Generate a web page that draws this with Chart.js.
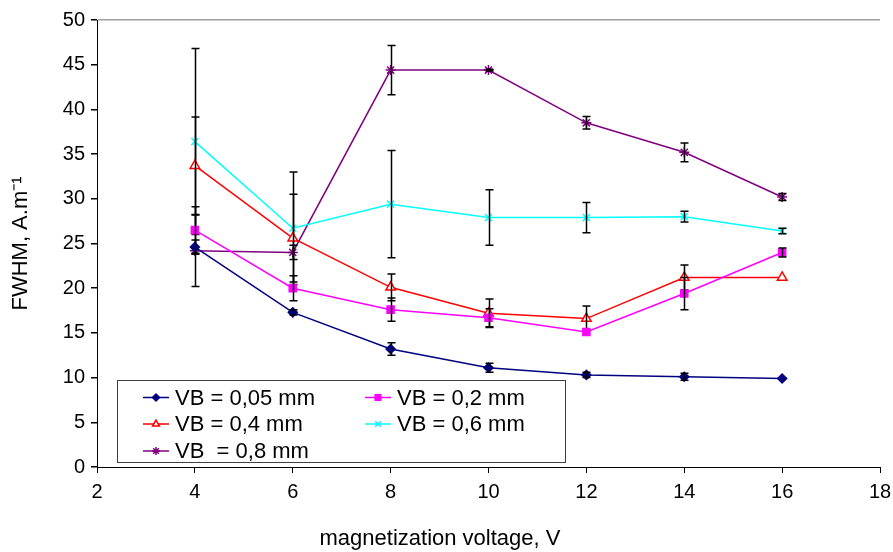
<!DOCTYPE html>
<html><head><meta charset="utf-8">
<script src="https://cdn.jsdelivr.net/npm/chart.js@4/dist/chart.umd.min.js"></script>
<style>html,body{margin:0;padding:0;background:#fff}#wrap{width:893px;height:552px}</style>
</head><body><div id="wrap"><canvas id="c" width="893" height="552"></canvas></div>
<script>
const voltages = [4, 6, 8, 10, 12, 14, 16];
const seriesNames = ['VB = 0,05 mm', 'VB = 0,2 mm', 'VB = 0,4 mm', 'VB = 0,6 mm', 'VB  = 0,8 mm'];
const vb005 = [24.6, 17.3, 13.2, 11.1, 10.3, 10.1, 9.9];
const vb02  = [26.5, 20.0, 17.6, 16.7, 15.1, 19.4, 24.0];
const vb04  = [33.7, 25.6, 20.1, 17.2, 16.6, 21.2, 21.2];
const vb06  = [36.4, 26.7, 29.4, 27.9, 27.9, 28.0, 26.4];
const vb08  = [24.2, 24.0, 44.4, 44.4, 38.5, 35.2, 30.2];
const err005 = [0.8, 0.3, 0.7, 0.5, 0.3, 0.4, 0];
const err02  = [2.6, 1.4, 1.3, 1.0, 0, 1.8, 0.5];
const err04  = [5.45, 4.9, 1.5, 1.6, 1.4, 1.4, 0];
const err06  = [10.4, 6.3, 6.0, 3.1, 1.7, 0.6, 0.3];
const err08  = [4.0, 0.8, 2.75, 0.1, 0.7, 1.05, 0.4];
const xTicks = [2, 4, 6, 8, 10, 12, 14, 16, 18];
const yTicks = [0, 5, 10, 15, 20, 25, 30, 35, 40, 45, 50];

const values = [vb005, vb02, vb04, vb06, vb08];
const errors = [err005, err02, err04, err06, err08];
const styles = [
  {color:'#000080', fill:'#000080', point:'rectRot', r:4.5, lr:3.5},
  {color:'#FF00FF', fill:'#FF00FF', point:'rect', r:5, lr:4},
  {color:'#FF0000', fill:'#FFFFFF', point:'triangle', r:5.5, lr:4},
  {color:'#00FFFF', fill:'#00FFFF', point:'crossRot', r:5, lr:4},
  {color:'#800080', fill:'#800080', point:'star', r:5, lr:4}
];

const datasets = values.map((vals, i) => ({
  label: seriesNames[i],
  data: vals.map((v, j) => ({x: voltages[j], y: v})),
  errs: errors[i],
  legendRadius: styles[i].lr,
  borderColor: styles[i].color,
  backgroundColor: styles[i].fill,
  pointBackgroundColor: styles[i].fill,
  pointBorderColor: styles[i].color,
  pointStyle: styles[i].point,
  pointRadius: styles[i].r,
  pointBorderWidth: 1.5,
  borderWidth: 1.5,
  tension: 0,
  fill: false
}));

const errorBars = {
  id: 'errorBars',
  afterDatasetDraw(chart, args) {
    const ds = chart.data.datasets[args.index];
    const xs = chart.scales.x, ys = chart.scales.y;
    const ctx = chart.ctx;
    ctx.save();
    ctx.strokeStyle = '#000';
    ctx.lineWidth = 1.5;
    ds.data.forEach((p, j) => {
      const e = ds.errs[j];
      if (!e) return;
      const px = Math.round(xs.getPixelForValue(p.x)) + 0.5;
      const yt = ys.getPixelForValue(p.y + e);
      const yb = ys.getPixelForValue(p.y - e);
      ctx.beginPath();
      ctx.moveTo(px, yt); ctx.lineTo(px, yb);
      ctx.moveTo(px - 4, yt); ctx.lineTo(px + 4, yt);
      ctx.moveTo(px - 4, yb); ctx.lineTo(px + 4, yb);
      ctx.stroke();
    });
    ctx.restore();
  }
};

const boxLegend = {
  id: 'boxLegend',
  afterDraw(chart) {
    const ctx = chart.ctx;
    const bx = 117.5, by = 380.5, bw = 448, bh = 82;
    ctx.save();
    ctx.fillStyle = '#fff';
    ctx.fillRect(bx, by, bw, bh);
    ctx.strokeStyle = '#404040';
    ctx.lineWidth = 1;
    ctx.strokeRect(bx, by, bw, bh);
    const cols = [143, 365];
    const rows = [397.5, 424, 451];
    ctx.font = '22px "Liberation Sans", Arial, sans-serif';
    ctx.textBaseline = 'middle';
    ctx.textAlign = 'left';
    chart.data.datasets.forEach((ds, i) => {
      const cx = cols[i % 2], cy = rows[Math.floor(i / 2)];
      ctx.strokeStyle = ds.borderColor;
      ctx.lineWidth = 1.5;
      ctx.beginPath(); ctx.moveTo(cx, cy); ctx.lineTo(cx + 26, cy); ctx.stroke();
      ctx.fillStyle = ds.pointBackgroundColor;
      ctx.strokeStyle = ds.pointBorderColor;
      Chart.helpers.drawPoint(ctx, {pointStyle: ds.pointStyle, radius: ds.legendRadius, borderWidth: 1.5, rotation: 0}, cx + 13, cy);
      ctx.fillStyle = '#000';
      ctx.fillText(ds.label, cx + 32, cy + 1);
    });
    ctx.restore();
  }
};

const tickFont = {family: '"Liberation Sans", Arial, sans-serif', size: 20};
const titleFont = {family: '"Liberation Sans", Arial, sans-serif', size: 22, weight: 'normal'};

new Chart(document.getElementById('c'), {
  type: 'line',
  data: {datasets},
  options: {
    responsive: false,
    animation: false,
    layout: {padding: {top: 20, right: 13, bottom: 0, left: 0}},
    plugins: {
      legend: {display: false},
      tooltip: {enabled: false},
      title: {display: true, position: 'bottom', text: 'magnetization voltage, V', font: titleFont, color: '#000', padding: {top: 0, bottom: 0}}
    },
    scales: {
      x: {
        type: 'linear', min: 2, max: 18,
        afterBuildTicks(s) { s.ticks = xTicks.map(v => ({value: v})); },
        afterFit(s) { s.height = 58.6; s.paddingRight = 0; s.paddingLeft = 0; },
        ticks: {font: tickFont, color: '#000', padding: 7, maxRotation: 0},
        grid: {drawOnChartArea: false, tickColor: '#000', tickLength: 6, lineWidth: 1},
        border: {color: '#000', width: 1}
      },
      y: {
        type: 'linear', min: 0, max: 50,
        afterBuildTicks(s) { s.ticks = yTicks.map(v => ({value: v})); },
        afterFit(s) { s.width = 97; s.paddingTop = 0; s.paddingBottom = 0; },
        ticks: {font: tickFont, color: '#000', padding: 6},
        grid: {color: c => c.tick && c.tick.value === 50 ? '#a0a0a0' : 'rgba(0,0,0,0)', tickColor: '#000', tickLength: 6, lineWidth: 1.5},
        border: {color: '#000', width: 1},
        title: {display: true, text: 'FWHM, A.m⁻¹', font: titleFont, color: '#000', padding: {top: 8, bottom: 0}}
      }
    }
  },
  plugins: [errorBars, boxLegend]
});
</script></body></html>
